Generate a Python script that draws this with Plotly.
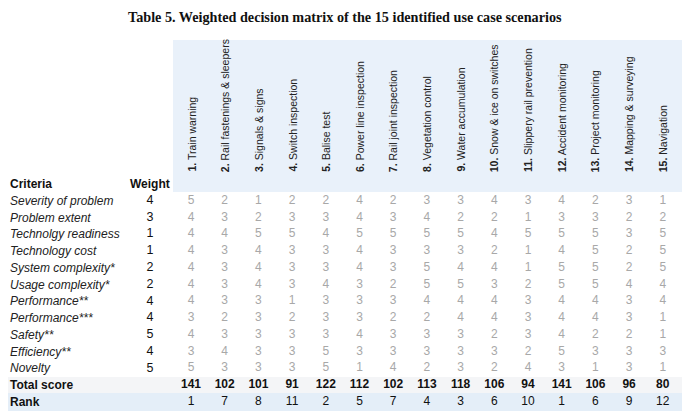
import plotly.graph_objects as go

title = "Table 5. Weighted decision matrix of the 15 identified use case scenarios"

scenarios = ["Train warning", "Rail fastenings & sleepers", "Signals & signs", "Switch inspection",
             "Balise test", "Power line inspection", "Rail joint inspection", "Vegetation control",
             "Water accumulation", "Snow & ice on switches", "Slippery rail prevention",
             "Accident monitoring", "Project monitoring", "Mapping & surveying", "Navigation"]

criteria = ["Severity of problem", "Problem extent", "Technolgy readiness", "Technology cost",
            "System complexity*", "Usage complexity*", "Performance**", "Performance***",
            "Safety**", "Efficiency**", "Novelty"]

weights = [4, 3, 1, 1, 2, 2, 4, 4, 5, 4, 5]

scores = [
    [5, 2, 1, 2, 2, 4, 2, 3, 3, 4, 3, 4, 2, 3, 1],
    [4, 3, 2, 3, 3, 4, 3, 4, 2, 2, 1, 3, 3, 2, 2],
    [4, 4, 5, 5, 4, 5, 5, 5, 5, 4, 5, 5, 5, 3, 5],
    [4, 3, 4, 3, 3, 4, 3, 3, 3, 2, 1, 4, 5, 2, 5],
    [4, 3, 4, 3, 3, 4, 3, 5, 4, 4, 1, 5, 5, 2, 5],
    [4, 3, 4, 3, 4, 3, 2, 5, 5, 3, 2, 5, 5, 4, 4],
    [4, 3, 3, 1, 3, 3, 3, 4, 4, 4, 3, 4, 4, 3, 4],
    [3, 2, 3, 2, 3, 3, 2, 2, 4, 4, 3, 4, 4, 3, 1],
    [4, 3, 3, 3, 3, 4, 3, 3, 3, 2, 3, 4, 2, 2, 1],
    [3, 4, 3, 3, 5, 3, 3, 3, 3, 3, 2, 5, 3, 3, 3],
    [5, 3, 3, 3, 5, 1, 4, 2, 3, 2, 4, 3, 1, 3, 1],
]

total_score = [141, 102, 101, 91, 122, 112, 102, 113, 118, 106, 94, 141, 106, 96, 80]
rank = [1, 7, 8, 11, 2, 5, 7, 4, 3, 6, 10, 1, 6, 9, 12]

# ---- layout geometry ----
OFF = 8                      # page body margin
W, H = 690 - OFF, 416 - OFF  # figure size that fits the window
col_px0, col_dx = 191.0, 33.7   # window-pixel x of column 1, spacing
row_px0, row_dy = 184.0, 16.77  # window-pixel y of header row, spacing


def px_x(p):
    return 1 + (p - col_px0) / col_dx


def px_y(p):
    return (p - row_px0) / row_dy


x_range = [px_x(OFF), px_x(OFF + W)]
y_range = [px_y(OFF + H), px_y(OFF)]  # reversed


def paper_x(p):
    return (p - OFF) / W


def paper_y(p):
    return 1 - (p - OFF) / H


SANS = "Liberation Sans, Arial, sans-serif"
FS = 12
ncol = len(scenarios)
cols = list(range(1, ncol + 1))

fig = go.Figure()

xs, ys, ts = [], [], []
for r, row in enumerate(scores):
    for c, v in enumerate(row):
        xs.append(cols[c]); ys.append(r + 1); ts.append(str(v))
fig.add_trace(go.Scatter(x=xs, y=ys, text=ts, mode="text",
                         textfont=dict(family=SANS, size=FS, color="#a8a8a8"),
                         hoverinfo="skip", showlegend=False))

tot_row = len(criteria) + 1
fig.add_trace(go.Scatter(x=cols, y=[tot_row] * ncol, text=[f"<b>{v}</b>" for v in total_score],
                         mode="text", textfont=dict(family=SANS, size=FS, color="#111"),
                         hoverinfo="skip", showlegend=False))
fig.add_trace(go.Scatter(x=cols, y=[tot_row + 1] * ncol, text=[str(v) for v in rank],
                         mode="text", textfont=dict(family=SANS, size=FS, color="#111"),
                         hoverinfo="skip", showlegend=False))
wx = px_x(150)
fig.add_trace(go.Scatter(x=[wx] * len(weights), y=list(range(1, len(weights) + 1)),
                         text=[str(w) for w in weights], mode="text",
                         textfont=dict(family=SANS, size=FS + 0.5, color="#111"),
                         hoverinfo="skip", showlegend=False))

ann = []
lx = px_x(8)
ann.append(dict(x=lx, y=0, text="<b>Criteria</b>", xanchor="left", yanchor="middle",
                showarrow=False, font=dict(family=SANS, size=FS, color="#111")))
ann.append(dict(x=wx, y=0, text="<b>Weight</b>", xanchor="center", yanchor="middle",
                showarrow=False, font=dict(family=SANS, size=FS, color="#111")))
for i, cname in enumerate(criteria):
    ann.append(dict(x=lx, y=i + 1, text=f"<i>{cname}</i>", xanchor="left", yanchor="middle",
                    showarrow=False, font=dict(family=SANS, size=FS, color="#222")))
ann.append(dict(x=lx, y=tot_row, text="<b>Total score</b>", xanchor="left", yanchor="middle",
                showarrow=False, font=dict(family=SANS, size=FS, color="#111")))
ann.append(dict(x=lx, y=tot_row + 1, text="<b>Rank</b>", xanchor="left", yanchor="middle",
                showarrow=False, font=dict(family=SANS, size=FS, color="#111")))

hy = px_y(174)
for i, s in enumerate(scenarios):
    ann.append(dict(x=cols[i], y=hy, text=f"<b>{i + 1}.</b> {s}", textangle=-90,
                    xanchor="center", yanchor="bottom", showarrow=False,
                    font=dict(family=SANS, size=10.5, color="#222")))

ann.append(dict(x=paper_x(345), y=paper_y(17), xref="paper", yref="paper",
                text=f"<b>{title}</b>", showarrow=False, xanchor="center", yanchor="middle",
                font=dict(family="Liberation Serif, Times New Roman, serif", size=14.2, color="#111")))

shapes = [
    dict(type="rect", xref="paper", yref="paper", x0=paper_x(173), x1=paper_x(686),
         y0=paper_y(192), y1=paper_y(40), fillcolor="#e9f1fa", line=dict(width=0), layer="below"),
    dict(type="rect", xref="paper", yref="paper", x0=0, x1=1,
         y0=paper_y(411), y1=paper_y(393), fillcolor="#e4eef8", line=dict(width=0), layer="below"),
    dict(type="rect", xref="paper", yref="paper", x0=0, x1=1,
         y0=paper_y(393), y1=paper_y(377), fillcolor="#f4f5f7", line=dict(width=0), layer="below"),
]

fig.update_layout(
    width=W, height=H, margin=dict(l=0, r=0, t=0, b=0),
    paper_bgcolor="white", plot_bgcolor="white",
    xaxis=dict(range=x_range, visible=False, fixedrange=True),
    yaxis=dict(range=y_range, visible=False, fixedrange=True),
    annotations=ann, shapes=shapes, showlegend=False,
)

fig.write_html("out.html")
